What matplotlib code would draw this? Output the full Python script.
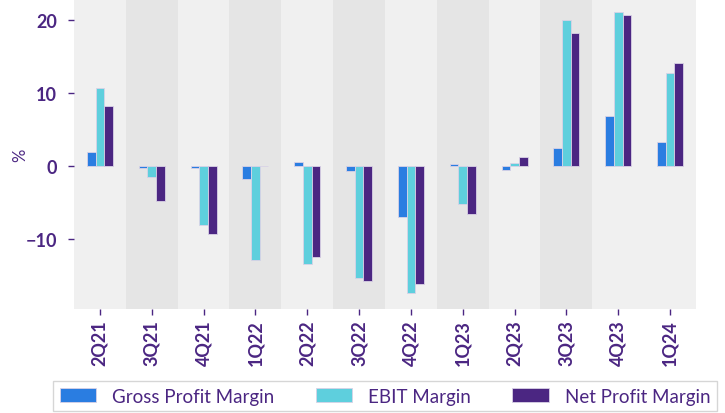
import numpy as np
import matplotlib
matplotlib.use("Agg")
import matplotlib.pyplot as plt

quarters = ['2Q21', '3Q21', '4Q21', '1Q22', '2Q22', '3Q22', '4Q22', '1Q23', '2Q23', '3Q23', '4Q23', '1Q24']
gross = [1.9, -0.3, -0.3, -1.8, 0.5, -0.7, -7.0, 0.3, -0.55, 2.5, 6.8, 3.2]
ebit = [10.7, -1.5, -8.1, -13.0, -13.5, -15.4, -17.5, -5.2, 0.4, 20.0, 21.1, 12.8]
net = [8.2, -4.8, -9.4, 0.0, -12.5, -15.9, -16.2, -6.7, 1.2, 18.2, 20.7, 14.1]

txt = '#4b2682'
plt.rcParams['font.family'] = ['Lato', 'DejaVu Sans']

fig = plt.figure(figsize=(7.25, 4.14), dpi=100)
ax = fig.add_axes([0.102, 0.251, 0.858, 0.747])
ax.set_facecolor('#f0f0f0')

x = np.arange(len(quarters))
for i in x:
    if i % 2 == 1 and i < 10:
        ax.axvspan(i - 0.5, i + 0.5, color='#e5e5e5', zorder=0, lw=0)

w = 0.5 / 3
ec = '#d9d2e6'
ax.bar(x - w, gross, w, color='#2a7de1', label='Gross Profit Margin', edgecolor=ec, linewidth=0.6, zorder=2)
ax.bar(x, ebit, w, color='#5ecfdd', label='EBIT Margin', edgecolor=ec, linewidth=0.6, zorder=2)
ax.bar(x + w, net, w, color='#4b2682', label='Net Profit Margin', edgecolor=ec, linewidth=0.6, zorder=2)

ax.set_xlim(-0.5, 11.5)
ax.set_ylim(-19.7, 22.8)
ax.set_yticks([-10, 0, 10, 20])
ax.set_yticklabels(['\u221210', '0', '10', '20'])
ax.set_xticks(x)
ax.set_xticklabels(quarters, rotation=90)
ax.tick_params(colors=txt, labelsize=13, length=4, width=1)
for lab in ax.get_xticklabels() + ax.get_yticklabels():
    lab.set_fontweight('bold')
ax.tick_params(axis='y', pad=8)
for s in ax.spines.values():
    s.set_visible(False)
fig.text(20 / 725, 1 - 155 / 414, '%', rotation=90, ha='center', va='center', color=txt, fontsize=12)

leg = fig.legend(loc='center', bbox_to_anchor=(0.531, 0.041), ncol=3, frameon=True,
                 fancybox=False, edgecolor='#cccccc', fontsize=13.5, handlelength=1.95,
                 handleheight=0.7, handletextpad=0.85, columnspacing=2.2, borderpad=0.35)
leg.get_frame().set_linewidth(1.0)
for t in leg.get_texts():
    t.set_color(txt)

plt.savefig('out.png', dpi=100)
